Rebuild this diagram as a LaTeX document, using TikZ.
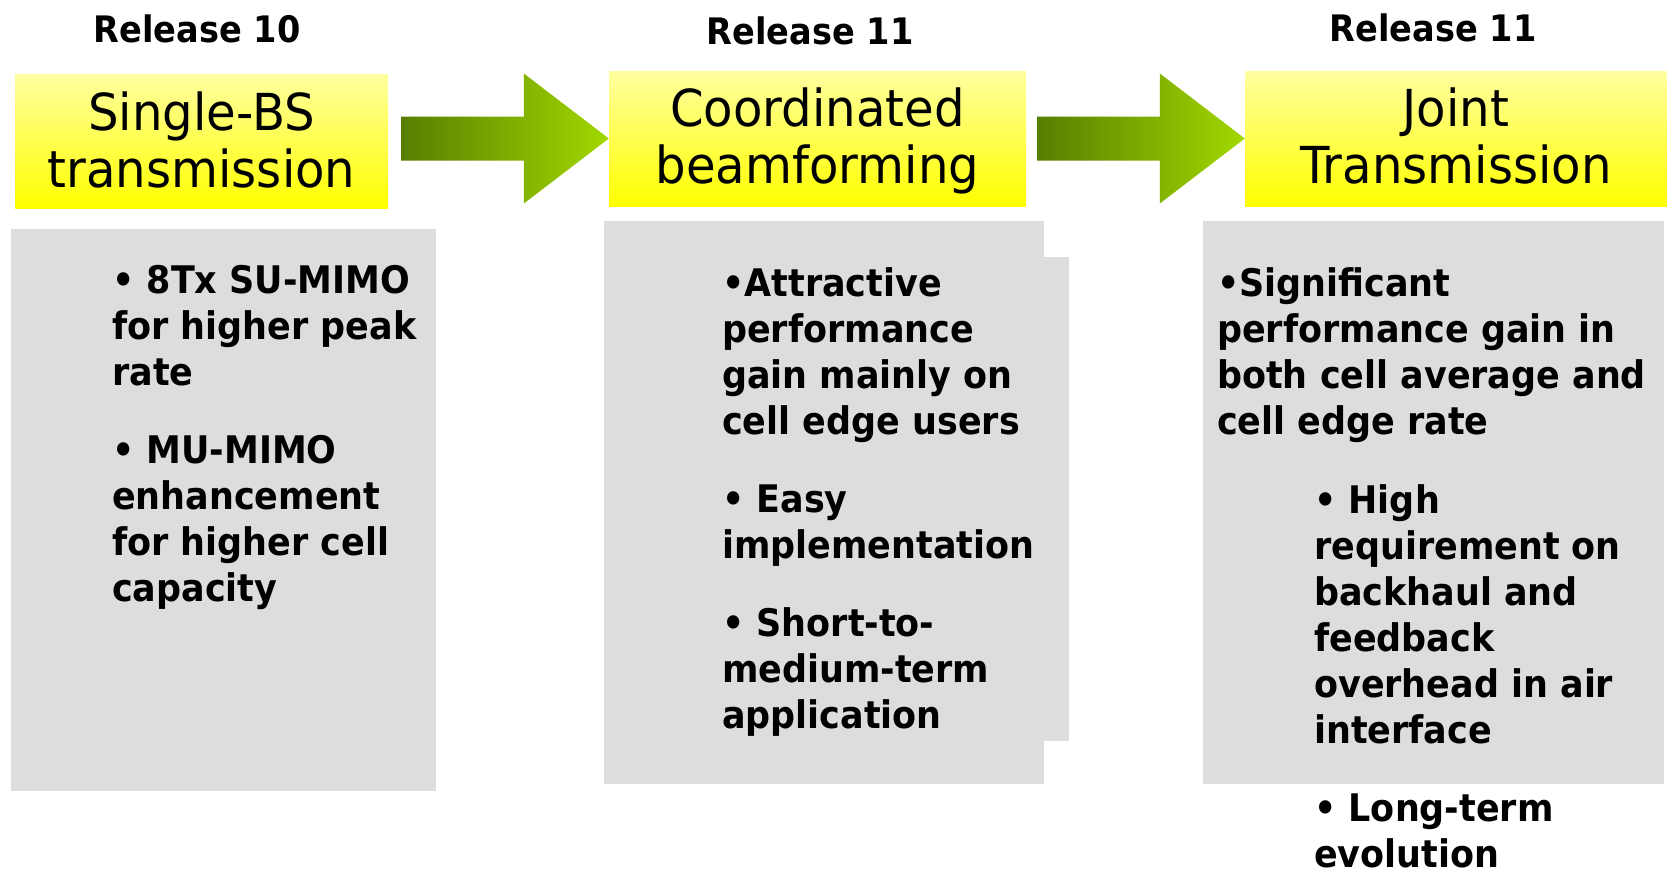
\documentclass[tikz,border=0pt]{standalone}
\usepackage{fontspec}
\usetikzlibrary{calc}
\newfontfamily\bodyfont{DejaVu Sans}[FakeStretch=0.92]
\newfontfamily\headfont{DejaVu Sans}[FakeStretch=0.945]
\definecolor{grayfill}{RGB}{221,221,221}
\definecolor{ytop}{RGB}{255,255,160}
\definecolor{ybot}{RGB}{255,255,0}
\definecolor{gdark}{RGB}{88,126,0}
\definecolor{glight}{RGB}{162,216,0}
\begin{document}
\begin{tikzpicture}[x=1pt,y=-1pt,
  ybox/.style={shade,top color=ytop,bottom color=ybot,draw=none,inner sep=0pt},
  gbox/.style={fill=grayfill,draw=none,inner sep=0pt},
  headtxt/.style={font=\headfont\fontsize{51}{57}\selectfont,align=center,anchor=base,inner sep=0pt},
  reltxt/.style={font=\bodyfont\bfseries\fontsize{36.5}{44}\selectfont,anchor=base,inner sep=0pt},
  bodytxt/.style={font=\bodyfont\bfseries\fontsize{38}{46}\selectfont,align=left,anchor=base west,inner sep=0pt},
  arrowshade/.style={left color=gdark,right color=glight,draw=none}]
\useasboundingbox (0,0) rectangle (1667,870);
\fill[white] (0,0) rectangle (1667,870);

% release labels
\node[reltxt] (r1) at (197,42) {Release 10};
\node[reltxt] (r2) at (810,44) {Release 11};
\node[reltxt] (r3) at (1433,41) {Release 11};

% yellow title boxes (text nodes are placed by the baseline of their last line)
\node[ybox,minimum width=373pt,minimum height=134pt] (y1) at (201.5,141) {};
\node[ybox,minimum width=417pt,minimum height=135pt] (y2) at (817.5,138.5) {};
\node[ybox,minimum width=422pt,minimum height=135pt] (y3) at (1456,138.5) {};
\node[headtxt] (t1) at (y1.center |- 0,187) {Single-BS\\transmission};
\node[headtxt] (t2) at (y2.center |- 0,183) {Coordinated\\beamforming};
\node[headtxt] (t3) at (y3.center |- 0,183) {Joint\\Transmission};

% block arrows between the title boxes
\coordinate (a1t) at (y2.west);
\coordinate (a1b) at ($(y1.east |- a1t)+(13,0)$);
\shade[arrowshade] ($(a1b)+(0,22)$) -- ($(a1t)+(-85,22)$) -- ($(a1t)+(-85,65)$) -- (a1t)
  -- ($(a1t)+(-85,-65)$) -- ($(a1t)+(-85,-22)$) -- ($(a1b)+(0,-22)$) -- cycle;
\coordinate (a2t) at (y3.west);
\coordinate (a2b) at ($(y2.east |- a2t)+(11,0)$);
\shade[arrowshade] ($(a2b)+(0,22)$) -- ($(a2t)+(-85,22)$) -- ($(a2t)+(-85,65)$) -- (a2t)
  -- ($(a2t)+(-85,-65)$) -- ($(a2t)+(-85,-22)$) -- ($(a2b)+(0,-22)$) -- cycle;

% grey description panels
\node[gbox,minimum width=425pt,minimum height=562pt] (g1) at (223.5,510) {};
\node[gbox,minimum width=440pt,minimum height=563pt] (g2) at (824,502.5) {};
\node[gbox,minimum width=25pt,minimum height=484pt] (g2x) at (1056.5,499) {};
\node[gbox,minimum width=461pt,minimum height=563pt] (g3) at (1433.5,502.5) {};

% panel texts (anchored at the baseline of the last line)
\node[bodytxt] (p1a) at (112,385) {• 8Tx SU-MIMO\\for higher peak\\rate};
\node[bodytxt] (p1b) at (112,601) {• MU-MIMO\\enhancement\\for higher cell\\capacity};

\node[bodytxt] (p2a) at (722,434) {•Attractive\\performance\\gain mainly on\\cell edge users};
\node[bodytxt] (p2b) at (722,558) {• Easy\\implementation};
\node[bodytxt] (p2c) at (722,728) {• Short-to-\\medium-term\\application};

\node[bodytxt] (p3a) at (1217,434) {•Significant\\performance gain in\\both cell average and\\cell edge rate};
\node[bodytxt] (p3b) at (1314,743) {• High\\requirement on\\backhaul and\\feedback\\overhead in air\\interface};
\node[bodytxt] (p3c) at (1314,867) {• Long-term\\evolution};
\end{tikzpicture}
\end{document}
